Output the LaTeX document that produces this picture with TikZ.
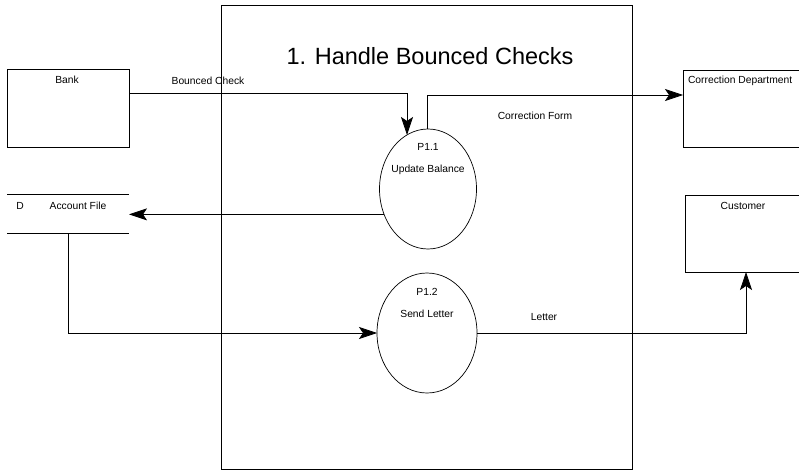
\documentclass[tikz,border=0pt]{standalone}
\usepackage{fontspec}
\setmainfont{Liberation Sans}
\usetikzlibrary{arrows.meta,shapes.geometric}
\begin{document}
\begin{tikzpicture}[x=1pt,y=-1pt,
  every node/.style={inner sep=0pt, outer sep=0pt},
  box/.style={draw, line width=0.7pt, minimum width=122pt, minimum height=77pt},
  proc/.style={draw, ellipse, line width=0.7pt},
  lbl/.style={font=\fontsize{10.3}{12}\selectfont, anchor=base},
  flow/.style={line width=0.7pt, -{Stealth[length=18pt,width=12pt,inset=4pt]}},
  plain/.style={line width=0.7pt}]
\useasboundingbox (0,0) rectangle (799,470);
\clip (0,0) rectangle (799,470);
% frame
\node[draw, line width=0.7pt, minimum width=411pt, minimum height=464pt] (frame) at (426.5,237) {};
\node[font=\fontsize{23.5}{26}\selectfont, anchor=base] (title) at (430,65) {1. Handle Bounced Checks};
% external entities
\node[box, minimum height=78pt] (bank) at (68,108) {};
\node[lbl] (banklbl) at (67,84) {Bank};
\node[box] (cd) at (744,108.5) {};
\node[lbl, anchor=base west] (cdlbl) at (688,84) {Correction Department};
\node[box] (cu) at (746,233.5) {};
\node[lbl] (culbl) at (743,210) {Customer};
% data store
\node[minimum width=122pt, minimum height=39pt] (af) at (68,213.5) {};
\draw[plain] (af.north west) -- (af.north east);
\draw[plain] (af.south west) -- (af.south east);
\node[lbl] (afd) at (20,210) {D};
\node[lbl] (aflbl) at (78,210) {Account File};
% processes
\node[proc, minimum width=97pt, minimum height=120pt] (p11) at (428,189) {};
\node[lbl] (p11a) at (428,151) {P1.1};
\node[lbl] (p11b) at (428,173) {Update Balance};
\node[proc, minimum width=100pt, minimum height=120pt] (p12) at (427,333) {};
\node[lbl] (p12a) at (427,295) {P1.2};
\node[lbl] (p12b) at (427,317) {Send Letter};
% flow labels
\node[lbl] (bclbl) at (208,85) {Bounced Check};
\node[lbl] (cflbl) at (535,120) {Correction Form};
\node[lbl] (ltlbl) at (544,320) {Letter};
% connectors
\coordinate (b1) at (407,93);
\coordinate (b2) at (407,135);
\draw[flow] (bank.east |- b1) -- (b1) -- (b2);
\coordinate (c1) at (427,95);
\draw[flow] (p11.north -| c1) -- (c1) -- (cd.west |- c1);
\draw[flow] (p11.210) -- (af.east |- p11.210);
\draw[flow] (af.south) |- (p12.west);
\draw[flow] (p12.east) -| (cu.south);
\end{tikzpicture}
\end{document}
